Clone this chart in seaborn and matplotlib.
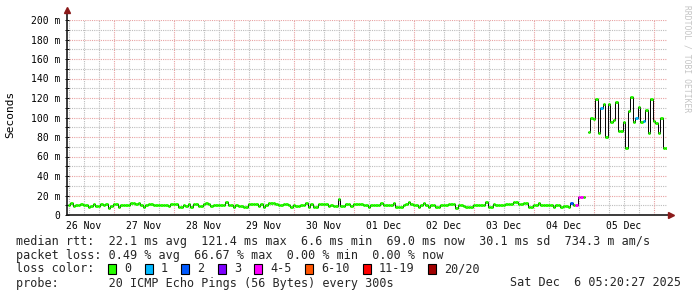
import matplotlib
matplotlib.use("Agg")
import matplotlib.pyplot as plt
from matplotlib.ticker import MultipleLocator
from matplotlib.patches import Rectangle
import pandas as pd
import seaborn as sns

# ---------------- data ----------------
# hourly median RTT in ms (None = no data)
rtt_ms = [
    10.0, 12.6, 9.2, 10.6, 10.6, 11.3, 10.6, 10.6, 7.9, 9.2,
    11.3, 9.2, 9.2, 11.3, 10.0, 11.3, 7.2, 9.2, 11.3, 11.3,
    7.9, 10.0, 10.0, 10.0, 10.6, 12.0, 12.0, 11.3, 12.6, 10.6,
    8.5, 10.0, 11.3, 11.3, 10.0, 10.0, 10.0, 10.0, 10.6, 10.6,
    9.2, 11.3, 11.3, 11.3, 8.5, 8.5, 10.6, 9.2, 11.3, 7.9,
    11.3, 11.3, 9.2, 9.2, 11.3, 12.6, 11.3, 9.2, 10.6, 10.6,
    10.6, 10.6, 10.6, 13.3, 10.0, 10.0, 8.5, 10.6, 9.2, 9.2,
    8.5, 7.9, 11.3, 11.3, 11.3, 11.3, 9.2, 11.3, 7.9, 10.6,
    12.0, 12.0, 12.0, 11.3, 10.0, 10.0, 11.3, 11.3, 10.0, 8.5,
    10.6, 9.2, 9.2, 10.0, 10.0, 12.6, 8.5, 11.3, 8.5, 8.5,
    11.3, 11.3, 11.3, 11.3, 9.2, 10.6, 9.2, 9.2, 16.1, 9.2,
    9.2, 11.3, 11.3, 9.2, 11.3, 11.3, 11.3, 11.3, 10.6, 10.6,
    7.9, 10.0, 10.0, 10.6, 10.6, 12.0, 10.6, 10.0, 10.0, 10.0,
    12.0, 8.5, 8.5, 8.5, 10.0, 11.3, 13.3, 11.3, 10.0, 10.0,
    7.9, 10.0, 12.0, 10.0, 8.5, 10.0, 10.0, 8.5, 8.5, 10.6,
    10.6, 10.6, 11.3, 11.3, 11.3, 7.2, 10.6, 10.6, 9.2, 8.5,
    8.5, 8.5, 10.0, 10.0, 10.0, 10.0, 10.0, 13.3, 7.9, 7.9,
    11.3, 10.0, 10.0, 10.0, 10.0, 11.3, 11.3, 11.3, 13.3, 13.3,
    11.3, 11.3, 12.6, 12.6, 8.5, 8.5, 10.6, 10.6, 12.0, 10.0,
    10.0, 10.0, 10.0, 10.6, 8.5, 10.0, 10.0, 7.9, 9.2, 9.2,
    8.5, 12.6, 10.0, 10.6, 18.1, 18.1, 18.1, None, 85.0, 100.0,
    98.5, 119.0, 84.0, 110.0, 114.0, 80.0, 114.0, 95.0, 97.0, 116.0,
    86.0, 86.0, 95.0, 69.0, 107.0, 121.0, 95.0, 100.0, 111.0, 95.0,
    96.7, 108.0, 84.0, 119.0, 96.0, 94.0, 84.0, 100.0, 69.0, 69.0,
]
first_step = "2025-11-26 05:38"
window_start = "2025-11-26 05:20:27"
window_end = "2025-12-06 05:20:27"

# steps with packet loss (index into rtt_ms) and lost pings out of 20
loss_steps = [201, 203, 204, 205, 213, 227, 230]
loss_pings = [2, 4, 4, 4, 1, 1, 1]

loss_labels = ["0", "1", "2", "3", "4-5", "6-10", "11-19", "20/20"]
loss_upper = [0, 1, 2, 3, 5, 10, 19, 20]
loss_colors = ["#26ff00", "#00b8ff", "#0059ff", "#7e00ff",
               "#ff00ff", "#ff5500", "#ff0000", "#a10000"]

ytick_values = [0, 20, 40, 60, 80, 100, 120, 140, 160, 180, 200]
ytick_labels = ["0", "20 m", "40 m", "60 m", "80 m", "100 m", "120 m",
                "140 m", "160 m", "180 m", "200 m"]
day_labels = ["26 Nov", "27 Nov", "28 Nov", "29 Nov", "30 Nov",
              "01 Dec", "02 Dec", "03 Dec", "04 Dec", "05 Dec"]

rtt_line = "median rtt:  22.1 ms avg  121.4 ms max  6.6 ms min  69.0 ms now  30.1 ms sd  734.3 m am/s"
loss_line = "packet loss: 0.49 % avg  66.67 % max  0.00 % min  0.00 % now"
probe_line = "probe:       20 ICMP Echo Pings (56 Bytes) every 300s"
stamp_line = "Sat Dec  6 05:20:27 2025"
watermark = "RRDTOOL / TOBI OETIKER"

# ---------------- tables ----------------
times = pd.date_range(first_step, periods=len(rtt_ms), freq="h")
step = pd.Timedelta(hours=1)
pings = [0] * len(rtt_ms)
for s, p in zip(loss_steps, loss_pings):
    pings[s] = p


def loss_class(p):
    for lab, up in zip(loss_labels, loss_upper):
        if p <= up:
            return lab
    return loss_labels[-1]


# connecting step line (split into runs at gaps)
conn_rows = []
run = 0
for i, (t, v) in enumerate(zip(times, rtt_ms)):
    if v is None:
        run += 1
        continue
    conn_rows.append((t, v, run))
    nxt = rtt_ms[i + 1] if i + 1 < len(rtt_ms) else None
    if nxt is None:
        conn_rows.append((t + step, v, run))
conn = pd.DataFrame(conn_rows, columns=["t", "v", "run"])

# coloured horizontal segments
seg_rows = []
for i, (t, v) in enumerate(zip(times, rtt_ms)):
    if v is None:
        continue
    c = loss_class(pings[i])
    seg_rows.append((t, v, i, c))
    seg_rows.append((t + step, v, i, c))
seg = pd.DataFrame(seg_rows, columns=["t", "v", "unit", "loss"])

# ---------------- figure ----------------
sns.set_theme(style="white")
plt.rcParams["font.family"] = ["DejaVu Sans Mono"]

W, H = 697, 297
fig = plt.figure(figsize=(W / 100, H / 100), dpi=100)
fig.patch.set_facecolor("white")
ax = fig.add_axes([67 / W, (H - 215) / H, 600 / W, 195 / H])
ax.set_facecolor("white")

t0 = pd.Timestamp(window_start)
t1 = pd.Timestamp(window_end)
ax.set_xlim(t0, t1)
ax.set_ylim(0, 200)

grid_gray = "#bdbdbd"
grid_red = "#e8a2a2"
dot = (0, (1, 1))

# y grid
ax.yaxis.set_major_locator(MultipleLocator(20))
ax.yaxis.set_minor_locator(MultipleLocator(10))
ax.grid(which="minor", axis="y", color=grid_gray, linestyle=dot, linewidth=0.8)
ax.grid(which="major", axis="y", color=grid_red, linestyle=dot, linewidth=0.8)
ax.grid(False, axis="x")

# x grid
for t in pd.date_range("2025-11-26 06:00", t1, freq="6h"):
    if t.hour != 0:
        ax.axvline(t, color=grid_gray, linestyle=dot, linewidth=0.8, zorder=0.5)
for t in pd.date_range("2025-11-27 00:00", t1, freq="D"):
    ax.axvline(t, color=grid_red, linestyle=dot, linewidth=0.8, zorder=0.6)
ax.set_axisbelow(True)

# data lines
sns.lineplot(data=conn, x="t", y="v", units="run", estimator=None,
             drawstyle="steps-post", color="#000000", linewidth=0.7,
             sort=False, ax=ax, legend=False, zorder=3)
palette = dict(zip(loss_labels, loss_colors))
sns.lineplot(data=seg, x="t", y="v", units="unit", hue="loss",
             palette=palette, estimator=None, linewidth=2.1,
             sort=False, ax=ax, legend=False, zorder=4,
             solid_capstyle="butt")

# ticks
ax.set_yticks(ytick_values)
ax.set_yticklabels(ytick_labels)
noon = pd.date_range("2025-11-26 12:00", periods=len(day_labels), freq="D")
ax.set_xticks(noon)
ax.set_xticklabels(day_labels)
ax.tick_params(axis="x", which="both", length=0, pad=4, labelsize=7,
               colors="black")
ax.tick_params(axis="y", which="major", length=3, width=0.7,
               direction="inout", pad=3.5, labelsize=7, colors="black", left=True)
ax.tick_params(axis="y", which="minor", length=3, width=0.7,
               direction="inout", left=True, color="black")
ax.set_xlabel("")
ax.set_ylabel("")

for side in ["top", "right", "left", "bottom"]:
    ax.spines[side].set_visible(False)

# axes with arrows
axis_col = "#1a1a1a"
arrow_col = "#8b1a1a"
ax.plot([0, 0], [0, 1.045], transform=ax.transAxes, color=axis_col,
        linewidth=1.2, clip_on=False, zorder=6)
ax.plot([0, 1.003], [0, 0], transform=ax.transAxes, color=axis_col,
        linewidth=1.2, clip_on=False, zorder=6)
ax.plot([0], [1.05], transform=ax.transAxes, marker="^", markersize=4,
        color=arrow_col, clip_on=False, zorder=7)
ax.plot([1.006], [0], transform=ax.transAxes, marker=">", markersize=4,
        color=arrow_col, clip_on=False, zorder=7)

# labels / texts
fig.text(10 / W, 1 - 114 / H, "Seconds", rotation=90, ha="center",
         va="center", fontsize=8, color="black")
fig.text(687 / W, 1 - 5 / H, watermark, rotation=270, ha="center",
         va="top", fontsize=5.8, color="#c4c4c4")

fs = 8.5
cw = 7.1
fig.text(16 / W, 1 - 241 / H, rtt_line, ha="left", va="center", fontsize=fs)
fig.text(16 / W, 1 - 255 / H, loss_line, ha="left", va="center", fontsize=fs)
fig.text(16 / W, 1 - 269 / H, "loss color:", ha="left", va="center", fontsize=fs)
x = 108
for lab, col in zip(loss_labels, loss_colors):
    fig.patches.append(Rectangle((x / W, 1 - 274 / H), 8 / W, 10 / H,
                                 transform=fig.transFigure, facecolor=col,
                                 edgecolor="black", linewidth=0.8))
    fig.text((x + 16) / W, 1 - 269 / H, lab, ha="left", va="center", fontsize=fs)
    x = x + 16 + len(lab) * cw + 13.5
fig.text(16 / W, 1 - 283 / H, probe_line, ha="left", va="center", fontsize=fs)
fig.text(681 / W, 1 - 283 / H, stamp_line, ha="right", va="center", fontsize=fs)

fig.savefig("out.png", dpi=100, facecolor="white")
